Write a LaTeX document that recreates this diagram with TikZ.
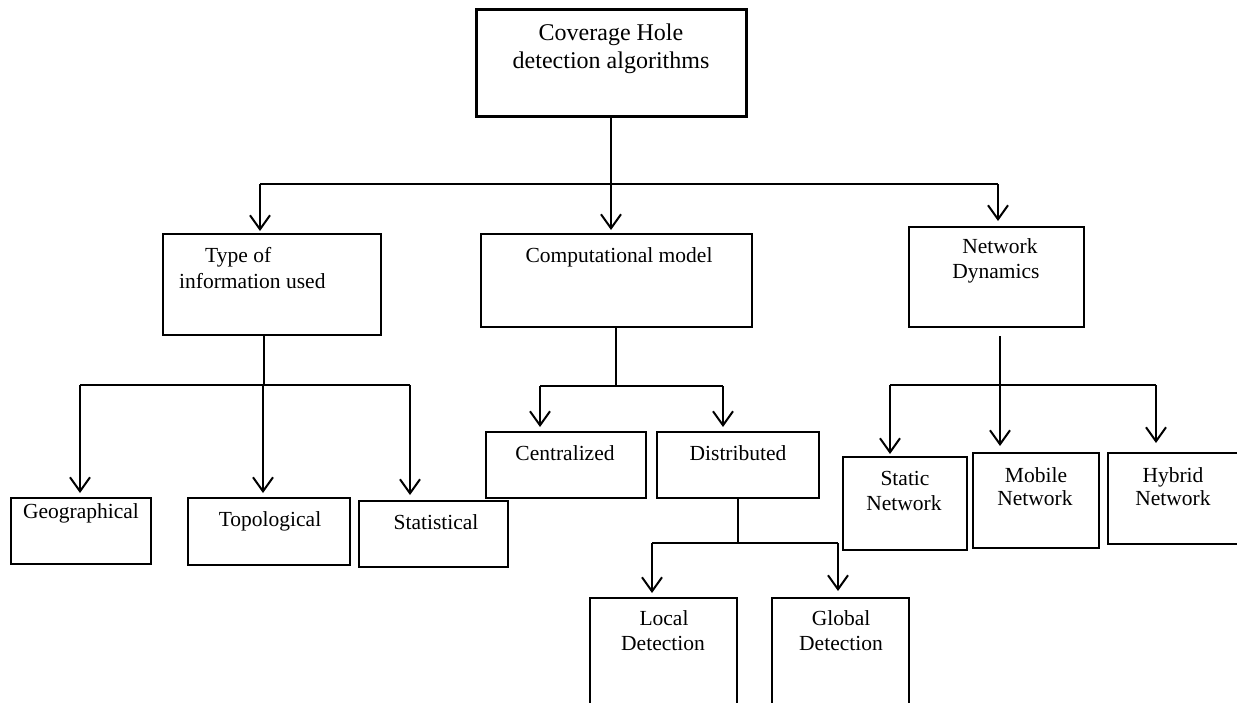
\documentclass[tikz,border=0pt]{standalone}
\usepackage{fontspec}
\setmainfont{Liberation Serif}
\usetikzlibrary{arrows.meta}
\begin{document}
\begin{tikzpicture}[x=1pt,y=-1pt,
  box/.style={draw, line width=1.5pt, anchor=north west, inner sep=0pt, outer sep=0pt},
  txt/.style={inner sep=0pt, anchor=base, font=\fontsize{21.5}{24}\selectfont},
  roottxt/.style={txt, font=\fontsize{24}{28}\selectfont},
  conn/.style={line width=1.5pt},
  arr/.style={line width=2pt, -{Straight Barb[length=14pt,width=20pt,line width=2pt]}}]
\useasboundingbox (0,0) rectangle (1237,702);
\fill[white] (0,0) rectangle (1237,702);
% boxes
\node[box, line width=3pt, minimum width=270pt, minimum height=107pt] (root) at (476,9) {};
\node[box, minimum width=218pt, minimum height=101pt] (type) at (163,234) {};
\node[box, minimum width=271pt, minimum height=93pt] (comp) at (481,234) {};
\node[box, minimum width=175pt, minimum height=100pt] (netw) at (909,227) {};
\node[box, minimum width=140pt, minimum height=66pt] (geo) at (11,498) {};
\node[box, minimum width=162pt, minimum height=67pt] (topo) at (188,498) {};
\node[box, minimum width=149pt, minimum height=66pt] (stat) at (359,501) {};
\node[box, minimum width=160pt, minimum height=66pt] (cent) at (486,432) {};
\node[box, minimum width=162pt, minimum height=66pt] (dist) at (657,432) {};
\node[box, minimum width=147pt, minimum height=110pt] (local) at (590,598) {};
\node[box, minimum width=137pt, minimum height=110pt] (global) at (772,598) {};
\node[box, minimum width=124pt, minimum height=93pt] (static) at (843,457) {};
\node[box, minimum width=126pt, minimum height=95pt] (mobile) at (973,453) {};
\node[box, minimum width=135pt, minimum height=91pt] (hybrid) at (1108,453) {};
% texts
\node[roottxt] (rootA) at (611,40) {Coverage Hole};
\node[roottxt] (rootB) at (611,68) {detection algorithms};
\node[txt, anchor=base west] (typeA) at (205,262) {Type of};
\node[txt, anchor=base west] (typeB) at (179,288) {information used};
\node[txt] (compA) at (619,262) {Computational model};
\node[txt] (netwA) at (1000,253) {Network};
\node[txt] (netwB) at (996,278) {Dynamics};
\node[txt] (geoA) at (81,518) {Geographical};
\node[txt] (topoA) at (270,526) {Topological};
\node[txt] (statA) at (436,529) {Statistical};
\node[txt] (centA) at (565,460) {Centralized};
\node[txt] (distA) at (738,460) {Distributed};
\node[txt] (localA) at (664,625) {Local};
\node[txt] (localB) at (663,650) {Detection};
\node[txt] (globalA) at (841,625) {Global};
\node[txt] (globalB) at (841,650) {Detection};
\node[txt] (staticA) at (905,485) {Static};
\node[txt] (staticB) at (904,510) {Network};
\node[txt] (mobileA) at (1036,482) {Mobile};
\node[txt] (mobileB) at (1035,505) {Network};
\node[txt] (hybridA) at (1173,482) {Hybrid};
\node[txt] (hybridB) at (1173,505) {Network};
% level 1
\coordinate (bL) at (260,184);
\coordinate (bR) at (998,184);
\draw[arr, shorten >=4pt] (root.south) -- (root.south |- comp.north);
\draw[conn] (bL) -- (bR);
\draw[arr, shorten >=3pt] (bL) -- (bL |- type.north);
\draw[arr, shorten >=6pt] (bR) -- (bR |- netw.north);
% type of information
\coordinate (tb) at (264,385);
\coordinate (tL) at (80,385);
\coordinate (tM) at (263,385);
\coordinate (tR) at (410,385);
\draw[conn] (tb |- type.south) -- (tb);
\draw[conn] (tL) -- (tR);
\draw[arr, shorten >=5pt] (tL) -- (tL |- geo.north);
\draw[arr, shorten >=5pt] (tM) -- (tM |- topo.north);
\draw[arr, shorten >=6pt] (tR) -- (tR |- stat.north);
% computational model
\coordinate (cb) at (616,386);
\coordinate (cL) at (540,386);
\coordinate (cR) at (723,386);
\draw[conn] (cb |- comp.south) -- (cb);
\draw[conn] (cL) -- (cR);
\draw[arr, shorten >=5pt] (cL) -- (cL |- cent.north);
\draw[arr, shorten >=5pt] (cR) -- (cR |- dist.north);
% distributed
\coordinate (db) at (738,543);
\coordinate (dL) at (652,543);
\coordinate (dR) at (838,543);
\draw[conn] (dist.south) -- (db);
\draw[conn] (dL) -- (dR);
\draw[arr, shorten >=5pt] (dL) -- (dL |- local.north);
\draw[arr, shorten >=7pt] (dR) -- (dR |- global.north);
% network dynamics
\coordinate (nt) at (1000,336);
\coordinate (nb) at (1000,385);
\coordinate (nL) at (890,385);
\coordinate (nR) at (1156,385);
\draw[conn] (nt) -- (nb);
\draw[conn] (nL) -- (nR);
\draw[arr, shorten >=3pt] (nL) -- (nL |- static.north);
\draw[arr, shorten >=7pt] (nb) -- (nb |- mobile.north);
\draw[arr, shorten >=10pt] (nR) -- (nR |- hybrid.north);
\end{tikzpicture}
\end{document}
